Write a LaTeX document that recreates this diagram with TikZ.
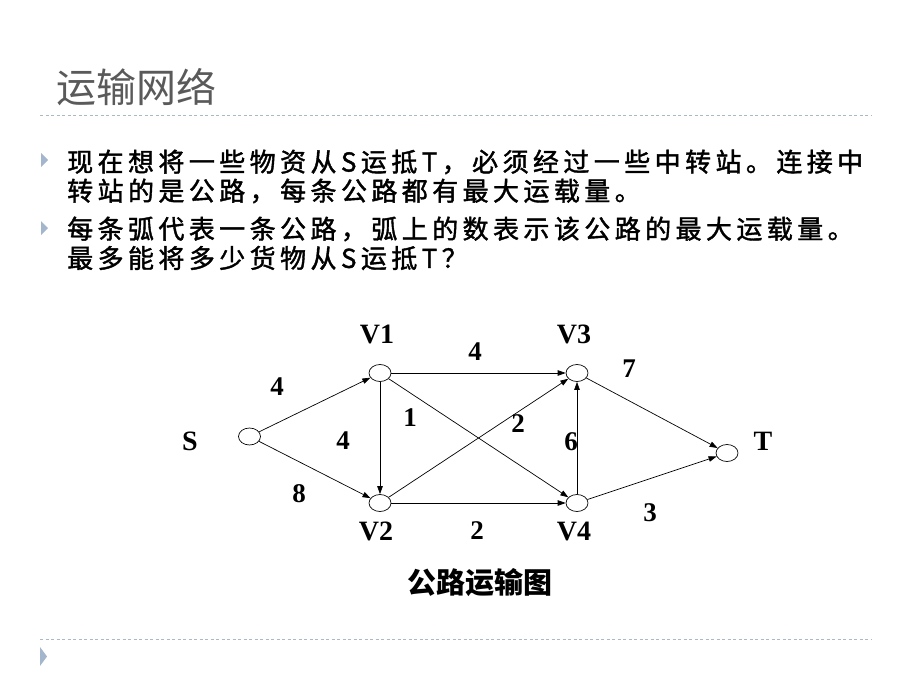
\documentclass[tikz,border=0pt]{standalone}
\usepackage{fontspec}
\usetikzlibrary{arrows.meta,shapes.geometric}
\setmainfont{Liberation Serif}
\newfontfamily\cjktitle{Noto Sans CJK SC}
\newfontfamily\cjkbody[LetterSpace=17,FakeBold=1.5]{Noto Sans CJK SC}
\newfontfamily\cjkcap{Noto Sans CJK SC}
\definecolor{rulecol}{HTML}{A9BAC2}
\definecolor{bulcol}{HTML}{A3B6CC}
\definecolor{titlecol}{HTML}{5A5A5A}
\tikzset{
  vert/.style={draw,ellipse,minimum width=22pt,minimum height=17pt,inner sep=0pt,line width=0.7pt},
  vlab/.style={font=\fontsize{28}{28}\selectfont\bfseries},
  elab/.style={font=\fontsize{27}{27}\selectfont\bfseries},
  arc/.style={line width=0.7pt,-{Triangle[length=8pt,width=5.5pt]}},
  bodytext/.style={anchor=west,inner sep=0pt,font=\cjkbody\fontsize{26}{26}\selectfont},
  rule/.style={rulecol,dash pattern=on 3pt off 2.5pt,line width=0.8pt},
  bullet/.style={fill=bulcol,draw=none}
}
\begin{document}
\begin{tikzpicture}[x=1pt,y=-1pt]
\useasboundingbox (0,0) rectangle (920,690);
% title and rules
\node[anchor=west,inner sep=0pt,text=titlecol,font=\cjktitle\fontsize{40}{40}\selectfont] (title) at (56,87) {运输网络};
\draw[rule] (40,115) -- (872,115);
\draw[rule] (40,639) -- (872,639);
\fill[bullet] (40,647) -- (47,656.5) -- (40,666) -- cycle;
% bullets
\fill[bullet] (41,153) -- (48,160) -- (41,167) -- cycle;
\fill[bullet] (41,221) -- (48,228) -- (41,235) -- cycle;
\node[bodytext] (l1) at (67,162) {现在想将一些物资从S运抵T，必须经过一些中转站。连接中};
\node[bodytext] (l2) at (67,191) {转站的是公路，每条公路都有最大运载量。};
\node[bodytext] (l3) at (67,229) {每条弧代表一条公路，弧上的数表示该公路的最大运载量。};
\node[bodytext] (l4) at (67,258) {最多能将多少货物从S运抵T？};
% vertices
\node[vert] (S) at (249.5,436.5) {};
\node[vert] (V1) at (380,373) {};
\node[vert] (V2) at (380,503) {};
\node[vert] (V3) at (577,373) {};
\node[vert] (V4) at (577,503) {};
\node[vert] (T) at (727,453) {};
% vertex labels
\node[vlab] (lS) at (190,441) {S};
\node[vlab] (lV1) at (377,334) {V1};
\node[vlab] (lV2) at (376,531) {V2};
\node[vlab] (lV3) at (574,334) {V3};
\node[vlab] (lV4) at (574,531) {V4};
\node[vlab] (lT) at (763,441) {T};
% arcs
\draw[arc] (S) -- (V1);
\draw[arc] (S) -- (V2);
\draw[arc] (V1) -- (V2);
\draw[arc] (V1) -- (V3);
\draw[arc] (V1) -- (V4);
\draw[arc] (V2) -- (V3);
\draw[arc] (V2) -- (V4);
\draw[arc] (V4) -- (V3);
\draw[arc] (V3) -- (T);
\draw[arc] (V4) -- (T);
% arc labels
\node[elab] (c1) at (277,387) {4};
\node[elab] (c2) at (299,494) {8};
\node[elab] (c3) at (343,441) {4};
\node[elab] (c4) at (410,418) {1};
\node[elab] (c5) at (475,352) {4};
\node[elab] (c6) at (518,424) {2};
\node[elab] (c7) at (571,442) {6};
\node[elab] (c8) at (477,531) {2};
\node[elab] (c9) at (629,369) {7};
\node[elab] (c10) at (650,513) {3};
% caption
\node[font=\cjkcap\bfseries\fontsize{29}{29}\selectfont] (cap) at (480,583) {公路运输图};
\end{tikzpicture}
\end{document}
